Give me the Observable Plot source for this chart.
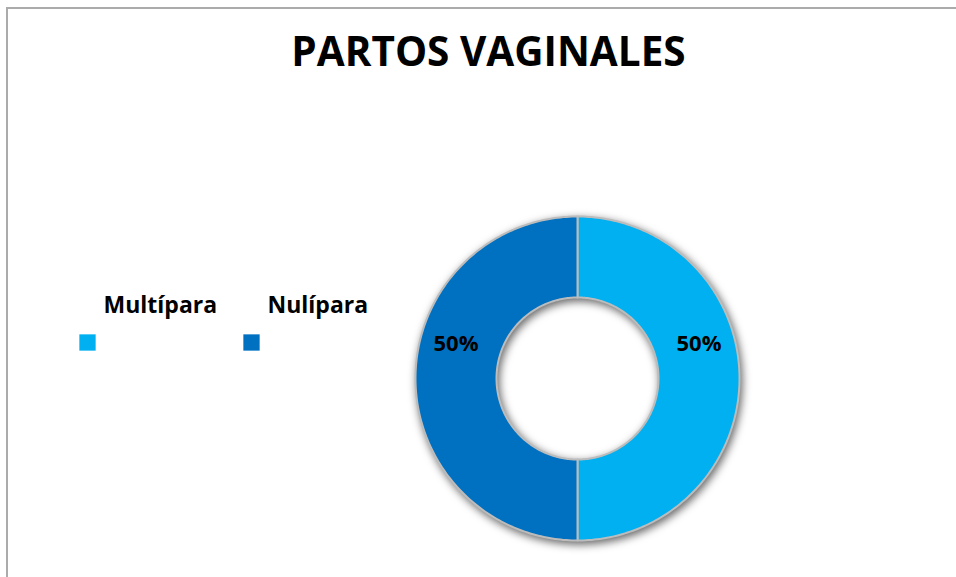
<!DOCTYPE html>
<html>
<head>
<meta charset="utf-8">
<script src="https://cdn.jsdelivr.net/npm/d3@7"></script>
<script src="https://cdn.jsdelivr.net/npm/@observablehq/plot@0.6"></script>
<style>
  html, body { margin: 0; padding: 0; background: #fff; }
  #wrap { position: relative; width: 956px; height: 577px; overflow: hidden; }
  #frame { position: absolute; left: 6px; top: 7px; width: 970px; height: 600px;
           border-left: 2px solid #ababab; border-top: 2px solid #ababab; box-sizing: border-box; }
  #chart { position: absolute; left: 0; top: 0; }
  .slices { filter: drop-shadow(2px 3px 4px rgba(0,0,0,0.6)); }
</style>
</head>
<body>
<div id="wrap"><div id="frame"></div><div id="chart"></div></div>
<script>
const title = "PARTOS VAGINALES";
const categories = ["Multípara", "Nulípara"];
const values = [50, 50];
const colors = ["#00B0F0", "#0070C0"];
const valueLabels = ["50%", "50%"];

// layout constants (pixels)
const W = 956, H = 577;
const CX = 577, CY = 378, R = 162; // donut centre & outer radius
const INNER = 0.5;                  // inner radius ratio
const FONT = "'Open Sans', 'DejaVu Sans', sans-serif";

const rows = categories.map((c, i) => ({category: c, value: values[i], label: valueLabels[i]}));
const arcs = d3.pie().sort(null).value(d => d.value)(rows);

// polygon outline for each slice (arc geometry derived from the pie angles)
const N = 180;
const pts = [];
for (const a of arcs) {
  const poly = [];
  for (let k = 0; k <= N; k++) {
    const t = a.startAngle + (a.endAngle - a.startAngle) * k / N;
    poly.push({category: a.data.category, x: Math.sin(t), y: Math.cos(t)});
  }
  for (let k = N; k >= 0; k--) {
    const t = a.startAngle + (a.endAngle - a.startAngle) * k / N;
    poly.push({category: a.data.category, x: INNER * Math.sin(t), y: INNER * Math.cos(t)});
  }
  poly.push(poly[0]);
  pts.push(...poly);
}
const labelPts = arcs.map(a => {
  const m = (a.startAngle + a.endAngle) / 2, r = (1 + INNER) / 2;
  return {category: a.data.category, label: a.data.label, x: r * Math.sin(m), y: r * Math.cos(m)};
});

const plot = Plot.plot({
  width: W, height: H,
  marginTop: 0, marginRight: 0, marginBottom: 0, marginLeft: 0,
  x: {domain: [-CX / R, (W - CX) / R], axis: null},
  y: {domain: [-(H - CY) / R, CY / R], axis: null},
  color: {domain: categories, range: colors},
  style: {fontFamily: FONT, background: "transparent"},
  marks: [
    Plot.line(pts, {x: "x", y: "y", z: "category", fill: "category",
                    stroke: "#bcbcbc", strokeWidth: 2, curve: "linear", className: "slices"}),
    Plot.text(labelPts, {x: "x", y: "y", text: "label", dy: -35, fontSize: 22, fontWeight: "bold",
                         fill: "#000", textAnchor: "middle", lineAnchor: "middle"}),
    Plot.text([title], {frameAnchor: "top-left", dx: 488, dy: 65, text: d => d, textAnchor: "middle",
                        lineAnchor: "bottom", fontSize: 40.5, fontWeight: "bold", fill: "#000"}),
    // legend
    ...categories.map((c, i) => Plot.text([c], {frameAnchor: "top-left", dx: 103 + i * 164, dy: 312,
        text: d => d, textAnchor: "start", lineAnchor: "bottom", fontSize: 23, fontWeight: "bold", fill: "#000"})),
    ...categories.map((c, i) => Plot.dot([c], {frameAnchor: "top-left", dx: 87 + i * 164, dy: 342,
        symbol: "square", r: 9.2, fill: d => d, stroke: null}))
  ]
});
document.getElementById("chart").appendChild(plot);
</script>
</body>
</html>
